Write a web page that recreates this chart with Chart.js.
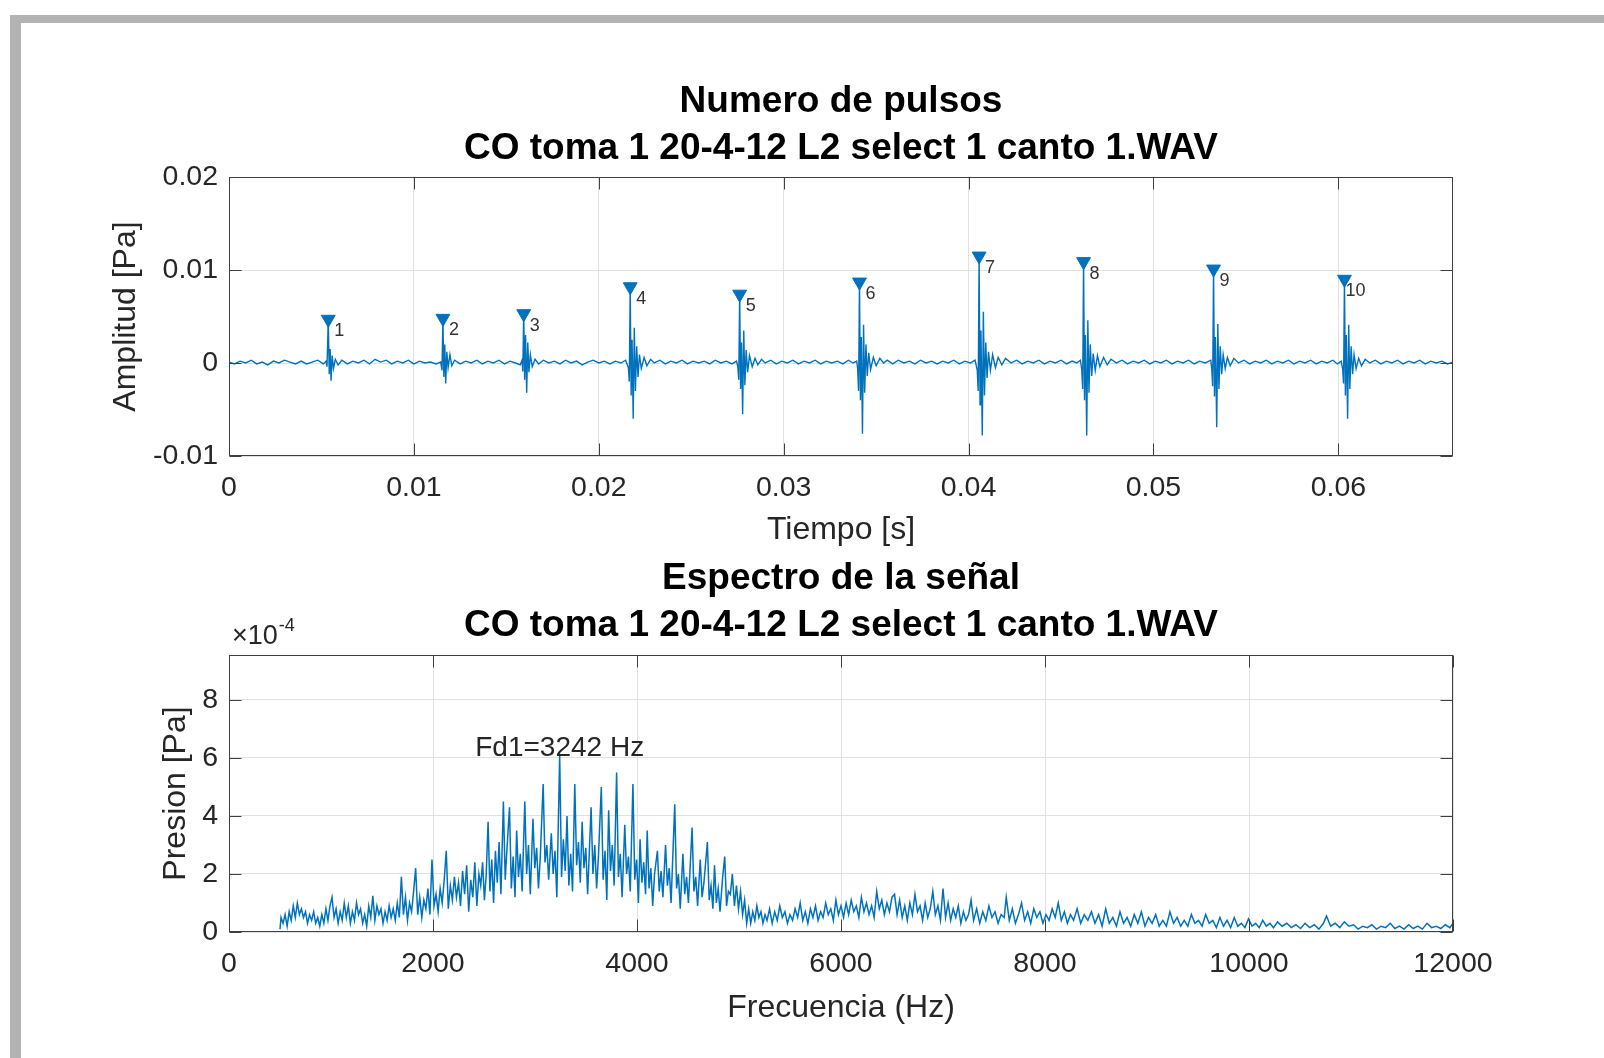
<!DOCTYPE html>
<html>
<head>
<meta charset="utf-8">
<script src="https://cdn.jsdelivr.net/npm/chart.js@4.4.1/dist/chart.umd.min.js"></script>
<style>
  body { margin: 0; background: #fff; width: 1604px; height: 1058px; overflow: hidden; position: relative; }
  .frame-top { position: absolute; left: 10px; top: 15px; width: 1594px; height: 8px; background: #b3b3b3; }
  .frame-left { position: absolute; left: 10px; top: 15px; width: 11px; height: 1043px; background: #b3b3b3; }
  canvas { position: absolute; left: 0; }
  #pulsos { top: 0; }
  #espectro { top: 540px; }
</style>
</head>
<body>
<div class="frame-top"></div>
<div class="frame-left"></div>
<canvas id="pulsos" width="1604" height="580"></canvas>
<canvas id="espectro" width="1604" height="518"></canvas>
<script>
// ---- datos: señal en el tiempo (ms, mPa) ----
const senalPts = [
  [0.0,0.1],[0.3,-0.1],[0.6,0.2],[0.9,0.0],[1.2,0.3],[1.5,-0.1],[1.8,0.1],[2.1,-0.2],[2.4,0.2],[2.7,0.0],
  [3.0,0.3],[3.3,0.1],[3.6,-0.1],[3.9,0.2],[4.2,-0.1],[4.5,0.1],[4.8,0.3],[5.1,-0.1],[5.25,0.2],
  [5.30,-0.4],[5.37,4.7],[5.42,-1.2],[5.47,1.5],[5.52,-1.9],[5.58,0.8],[5.65,-0.6],[5.75,0.4],[5.9,-0.2],
  [6.1,0.3],[6.4,-0.1],[6.7,0.2],[7.0,0.0],[7.3,0.3],[7.6,-0.1],[7.9,0.4],[8.2,0.1],[8.5,0.3],[8.8,-0.1],
  [9.1,0.2],[9.4,0.0],[9.7,0.3],[10.0,-0.1],[10.3,0.2],[10.6,0.0],[10.9,0.1],[11.2,-0.1],[11.45,0.1],
  [11.52,-0.8],[11.57,4.8],[11.62,-1.5],[11.67,2.0],[11.72,-2.2],[11.78,1.2],[11.85,-0.5],[11.95,0.9],[12.05,-0.3],
  [12.2,0.3],[12.5,-0.1],[12.8,0.2],[13.1,0.0],[13.4,0.3],[13.7,-0.1],[14.0,0.2],[14.3,0.0],[14.6,0.3],
  [14.9,-0.1],[15.2,0.2],[15.5,0.0],[15.75,-0.2],
  [15.85,0.3],[15.89,-0.9],[15.94,5.3],[15.99,-1.8],[16.04,3.0],[16.10,-3.2],[16.16,2.2],[16.22,-1.0],[16.30,0.9],
  [16.40,-0.4],[16.55,0.4],[16.75,-0.1],[17.0,0.3],[17.3,0.0],[17.6,0.2],[17.9,-0.1],[18.2,0.3],[18.5,0.0],
  [18.8,0.2],[19.1,-0.2],[19.4,0.1],[19.7,0.3],[20.0,0.0],[20.3,0.2],[20.6,-0.1],[20.9,0.2],[21.2,0.0],[21.45,0.3],
  [21.60,-0.5],[21.65,-2.0],[21.70,8.2],[21.75,-3.5],[21.80,2.5],[21.86,-6.0],[21.92,3.8],[21.98,-3.0],[22.05,1.8],
  [22.12,-1.5],[22.20,0.9],[22.30,-0.6],[22.45,0.6],[22.6,-0.3],[22.8,0.4],[23.0,0.0],[23.3,0.3],[23.6,-0.1],
  [23.9,0.2],[24.2,0.0],[24.5,0.3],[24.8,-0.1],[25.1,0.2],[25.4,0.0],[25.7,0.2],[26.0,-0.1],[26.3,0.3],
  [26.6,0.0],[26.9,0.2],[27.2,-0.1],[27.45,0.2],
  [27.52,-0.4],[27.57,-1.8],[27.62,7.4],[27.67,-2.8],[27.72,2.2],[27.78,-5.5],[27.84,3.5],[27.90,-2.4],[27.97,1.4],
  [28.05,-1.0],[28.15,0.8],[28.3,-0.4],[28.45,0.5],[28.6,-0.2],[28.8,0.4],[29.0,0.0],[29.3,0.3],[29.6,-0.1],
  [29.9,0.2],[30.2,0.0],[30.5,0.3],[30.8,-0.1],[31.1,0.2],[31.4,0.0],[31.7,0.3],[32.0,-0.1],[32.3,0.2],
  [32.6,0.0],[32.9,0.2],[33.2,-0.1],[33.5,0.3],[33.75,0.0],[33.95,0.2],
  [34.00,-0.6],[34.05,-3.0],[34.10,8.7],[34.15,-4.0],[34.20,2.8],[34.26,-7.6],[34.32,4.1],[34.38,-3.2],[34.45,2.0],
  [34.52,-1.4],[34.60,1.1],[34.70,-0.7],[34.85,0.6],[35.0,-0.3],[35.2,0.5],[35.4,0.0],[35.6,0.3],[35.9,-0.1],
  [36.2,0.3],[36.5,0.0],[36.8,0.2],[37.1,-0.1],[37.4,0.3],[37.7,0.0],[38.0,0.2],[38.3,-0.1],[38.6,0.2],
  [38.9,0.0],[39.2,0.3],[39.5,-0.1],[39.8,0.2],[40.1,0.0],[40.35,0.3],
  [40.47,-0.8],[40.52,-3.0],[40.57,11.5],[40.62,-4.5],[40.67,3.5],[40.74,-7.8],[40.80,5.5],[40.86,-3.5],[40.93,2.2],
  [41.00,-1.6],[41.08,1.2],[41.18,-0.8],[41.30,0.9],[41.45,-0.5],[41.6,0.6],[41.8,-0.2],[42.0,0.5],[42.3,0.0],
  [42.6,0.3],[42.9,-0.1],[43.2,0.2],[43.5,0.0],[43.8,0.3],[44.1,-0.1],[44.4,0.2],[44.7,0.0],[45.0,0.3],
  [45.3,-0.1],[45.6,0.2],[45.85,0.0],[46.05,0.3],
  [46.12,-0.7],[46.17,-2.8],[46.22,10.9],[46.27,-4.0],[46.32,3.0],[46.39,-7.8],[46.45,4.6],[46.51,-3.2],[46.58,2.0],
  [46.66,-1.4],[46.74,1.0],[46.85,-0.8],[46.97,0.8],[47.1,-0.4],[47.3,0.6],[47.5,-0.2],[47.7,0.4],[48.0,0.0],
  [48.3,0.3],[48.6,-0.1],[48.9,0.2],[49.2,0.0],[49.5,0.3],[49.8,-0.1],[50.1,0.2],[50.4,0.0],[50.7,0.3],
  [51.0,-0.1],[51.3,0.2],[51.6,0.0],[51.9,0.3],[52.2,-0.1],[52.5,0.2],[52.8,0.0],[53.1,0.3],
  [53.15,-0.6],[53.20,-2.5],[53.25,10.1],[53.30,-3.6],[53.35,2.8],[53.42,-6.9],[53.48,4.2],[53.54,-2.8],[53.61,1.8],
  [53.69,-1.2],[53.77,0.9],[53.88,-0.6],[54.0,0.6],[54.15,-0.3],[54.35,0.5],[54.6,0.0],[54.9,0.3],[55.2,-0.1],
  [55.5,0.2],[55.8,0.0],[56.1,0.3],[56.4,-0.1],[56.7,0.2],[57.0,0.0],[57.3,0.3],[57.6,-0.1],[57.9,0.2],
  [58.2,0.0],[58.5,0.3],[58.8,-0.1],[59.1,0.2],[59.4,0.0],[59.7,0.3],[59.95,-0.1],[60.15,0.2],
  [60.23,-0.6],[60.28,-2.2],[60.33,9.0],[60.38,-3.5],[60.43,3.0],[60.50,-6.0],[60.56,4.1],[60.62,-2.8],[60.69,1.8],
  [60.77,-1.2],[60.85,0.9],[60.96,-0.6],[61.1,0.5],[61.25,-0.3],[61.45,0.4],[61.7,0.0],[62.0,0.3],[62.3,-0.1],
  [62.6,0.2],[62.9,0.0],[63.2,0.3],[63.5,-0.1],[63.8,0.2],[64.1,0.0],[64.4,0.3],[64.7,-0.1],[65.0,0.2],
  [65.3,0.0],[65.6,0.2],[65.9,-0.1],[66.2,0.1]
];

// picos detectados (ms, mPa)
const pulsoTiempos = [5.37, 11.57, 15.94, 21.70, 27.62, 34.10, 40.57, 46.22, 53.25, 60.33];
const pulsoPicos   = [4.7, 4.8, 5.3, 8.2, 7.4, 8.7, 11.5, 10.9, 10.1, 9.0];
const pulsoEtiquetas = ['1','2','3','4','5','6','7','8','9','10'];

const tiempoTicks = [0, 0.01, 0.02, 0.03, 0.04, 0.05, 0.06];
const tiempoTickLabels = ['0','0.01','0.02','0.03','0.04','0.05','0.06'];
const amplitudTicks = [-0.01, 0, 0.01, 0.02];
const amplitudTickLabels = ['-0.01','0','0.01','0.02'];

// ---- datos: espectro (Hz, x10^-4 Pa) ----
const espectroPts = [
  [500,0.1],[510,0.5],[530,0.3],[550,0.6],[570,0.2],[590,0.7],[610,0.4],[630,0.9],[650,0.5],[670,1.0],
  [690,0.6],[710,0.8],[730,0.5],[750,0.7],[770,0.3],[790,0.6],[810,0.4],[830,0.7],[850,0.3],[870,0.5],
  [890,0.2],[910,0.6],[930,0.3],[950,0.8],[970,0.4],[990,0.9],[1010,1.2],[1030,0.5],[1050,0.8],[1070,0.3],
  [1090,0.7],[1110,0.4],[1130,1.0],[1150,0.5],[1170,0.9],[1190,0.3],[1210,0.7],[1230,0.4],[1250,1.0],[1270,0.6],
  [1290,0.8],[1310,0.3],[1330,0.6],[1350,0.2],[1370,0.9],[1390,0.5],[1410,1.25],[1430,0.4],[1450,0.9],[1470,0.6],
  [1490,0.8],[1510,0.3],[1530,0.7],[1550,0.4],[1570,0.9],[1590,0.5],[1610,0.8],[1630,0.4],[1650,1.0],
  [1670,0.5],[1690,1.9],[1710,0.6],[1730,1.2],[1750,0.4],[1770,1.0],[1790,0.7],[1810,1.4],[1830,2.2],[1850,0.6],
  [1870,1.2],[1890,0.5],[1910,1.1],[1930,0.8],[1950,1.5],[1970,0.6],[1990,2.5],[2010,0.9],[2030,1.3],[2050,0.7],
  [2070,1.5],[2090,1.0],[2110,1.8],[2130,2.8],[2150,0.8],[2170,1.6],[2190,1.1],[2210,1.9],[2230,1.2],[2250,1.7],
  [2270,0.9],[2290,2.1],[2310,1.3],[2330,2.3],[2350,0.7],[2370,1.8],[2390,1.2],[2410,2.4],[2430,0.9],[2450,2.0],
  [2468,1.6],[2486,2.4],[2504,1.1],[2522,2.0],[2540,3.8],[2558,1.4],[2576,2.5],[2594,1.0],[2612,2.8],[2630,1.7],
  [2648,3.1],[2666,1.3],[2690,4.5],[2708,1.8],[2726,2.9],[2750,4.3],[2768,1.5],[2786,2.6],[2804,1.2],[2820,3.5],
  [2838,1.9],[2856,2.7],[2874,1.4],[2900,4.5],[2918,2.0],[2936,3.0],[2954,1.3],[2980,3.9],[2998,2.2],[3016,2.9],
  [3034,1.5],[3052,2.6],[3080,5.1],[3098,2.4],[3116,3.0],[3134,1.8],[3160,3.4],[3178,2.0],[3196,2.8],[3214,1.2],
  [3242,6.1],[3260,1.9],[3278,3.2],[3296,2.1],[3314,4.0],[3332,1.6],[3350,2.7],[3368,1.4],[3390,5.1],[3408,2.3],
  [3426,3.1],[3444,1.7],[3462,3.8],[3480,2.2],[3498,2.9],[3516,1.3],[3550,4.3],[3568,2.0],[3586,3.0],[3604,1.5],
  [3622,2.6],[3650,5.0],[3668,1.8],[3686,2.8],[3704,1.1],[3722,4.2],[3740,2.1],[3758,3.0],[3776,1.6],[3800,5.5],
  [3818,1.9],[3836,2.7],[3854,1.2],[3880,3.7],[3898,2.0],[3916,2.6],[3934,1.4],[3960,5.1],[3978,1.8],[3996,2.5],
  [4014,1.0],[4030,3.2],[4048,1.7],[4066,2.4],[4084,1.3],[4100,3.5],[4118,1.5],[4136,2.2],[4154,0.9],[4172,2.0],
  [4200,2.8],[4218,1.4],[4236,2.1],[4254,1.2],[4280,3.0],[4298,1.6],[4316,2.2],[4334,1.0],[4370,4.4],[4388,1.5],
  [4406,2.0],[4424,0.8],[4450,2.7],[4468,1.3],[4486,1.9],[4504,1.0],[4540,3.6],[4558,1.4],[4576,1.9],[4594,0.9],
  [4620,2.5],[4638,1.2],[4656,1.7],[4690,3.1],[4708,1.1],[4726,1.6],[4744,0.8],[4760,2.3],[4778,1.0],[4796,1.5],
  [4814,0.7],[4840,1.9],[4860,2.6],[4878,0.9],[4896,1.4],
  [4915,1.3],[4935,2.0],[4955,0.9],[4975,1.6],[4995,0.8],[5015,1.4],[5035,0.6],[5055,1.1],[5075,0.3],[5095,0.8],
  [5115,0.3],[5135,0.7],[5155,0.4],[5175,0.9],[5195,0.5],[5215,0.7],[5235,0.3],[5255,0.6],[5275,0.4],
  [5300,0.8],[5325,0.3],[5350,0.7],[5375,0.4],[5400,0.9],[5425,0.5],[5450,0.7],[5475,0.3],[5500,0.6],[5525,0.4],
  [5550,0.8],[5575,0.5],[5600,1.0],[5625,0.4],[5650,0.7],[5675,0.3],[5700,0.8],[5725,0.5],[5750,0.9],[5775,0.4],
  [5800,0.7],[5825,0.5],[5850,1.0],[5875,0.6],[5900,0.8],[5925,0.4],[5950,1.1],[5975,0.6],
  [6000,0.9],[6025,0.5],[6050,1.0],[6075,0.6],[6100,1.1],[6125,0.7],[6150,0.9],[6175,0.5],[6200,1.2],[6225,0.7],
  [6250,1.0],[6275,0.6],[6300,0.9],[6325,0.5],[6350,1.4],[6375,0.8],[6400,1.1],[6425,0.6],[6450,1.0],[6475,0.7],
  [6500,1.2],[6525,1.3],[6550,0.6],[6575,1.1],[6600,0.5],[6625,0.9],[6650,0.4],[6675,1.0],[6700,0.6],[6725,1.3],
  [6750,0.7],[6775,0.9],[6800,0.4],[6825,1.0],[6850,0.5],[6875,0.8],[6900,1.4],[6925,0.6],[6950,0.9],[6975,0.4],
  [7000,1.5],[7025,0.5],[7050,1.0],[7075,0.4],[7100,0.8],[7125,0.5],[7150,0.9],[7175,0.3],[7200,0.7],[7225,0.4],
  [7250,0.6],[7275,1.1],
  [7300,0.4],[7330,0.8],[7360,0.3],[7390,0.7],[7420,0.4],[7450,0.9],[7480,0.5],[7510,0.7],[7540,0.3],[7570,0.6],
  [7600,0.5],[7620,1.2],[7650,0.4],[7680,0.8],[7710,0.3],[7740,0.6],[7770,1.0],[7800,0.4],[7830,0.7],[7860,0.3],
  [7890,0.8],[7920,0.5],[7950,0.7],[7980,0.3],[8010,0.6],[8040,0.4],[8070,0.8],[8100,0.5],[8130,1.0],[8160,0.4],
  [8190,0.7],[8220,0.3],[8250,0.6],[8280,0.4],
  [8315,0.8],[8350,0.3],[8385,0.6],[8420,0.4],[8455,0.7],[8490,0.3],[8525,0.6],[8560,0.2],[8595,0.8],[8630,0.3],
  [8665,0.5],[8700,0.2],[8735,0.7],[8770,0.3],[8805,0.5],[8840,0.2],[8875,0.6],[8910,0.3],[8945,0.7],[8980,0.2],
  [9015,0.5],[9050,0.3],[9085,0.6],[9120,0.2],[9155,0.4],[9190,0.2],[9225,0.7],[9260,0.3],[9295,0.5],[9330,0.2],
  [9365,0.4],[9400,0.2],[9435,0.6],[9470,0.3],[9505,0.4],[9540,0.2],[9575,0.6],[9610,0.3],[9645,0.4],[9680,0.15],
  [9715,0.5],[9750,0.2],[9785,0.4],[9820,0.15],[9855,0.5],[9890,0.2],[9925,0.3],[9960,0.15],[9995,0.45],[10030,0.2],
  [10065,0.3],[10100,0.15],[10135,0.4],[10170,0.2],[10205,0.3],[10240,0.15],
  [10280,0.35],[10325,0.2],[10370,0.3],[10415,0.15],[10460,0.25],[10505,0.12],[10550,0.3],[10595,0.15],[10640,0.25],[10685,0.1],
  [10730,0.3],[10760,0.55],[10800,0.2],[10845,0.3],[10890,0.15],[10935,0.35],[10980,0.2],[11025,0.25],[11070,0.1],[11115,0.2],
  [11160,0.15],[11205,0.25],[11250,0.1],[11295,0.2],[11340,0.15],[11385,0.3],[11430,0.12],[11475,0.2],[11520,0.1],[11565,0.25],
  [11610,0.12],[11655,0.2],[11700,0.1],[11745,0.3],[11790,0.15],[11835,0.2],[11880,0.12],[11925,0.25],[11970,0.15],[12000,0.3]
];

const picoFrecuencia = 3242;
const picoTexto = 'Fd1=3242 Hz';
const picoTextoNivel = 6.35;

const frecuenciaTicks = [0, 2000, 4000, 6000, 8000, 10000, 12000];
const frecuenciaTickLabels = ['0','2000','4000','6000','8000','10000','12000'];
const presionTicks = [0, 2, 4, 6, 8];
const presionTickLabels = ['0','2','4','6','8'];

const FONT = '"Liberation Sans", Arial, Helvetica, sans-serif';
const AZUL = '#0072bd';
const TXT = '#262626';

// box + inward tick marks, MATLAB style
const cajaMatlab = {
  id: 'cajaMatlab',
  afterDatasetsDraw(chart) {
    const { ctx, chartArea: a, scales } = chart;
    const L = Math.round(a.left) + 0.5, R = Math.round(a.right) - 0.5;
    const T = Math.round(a.top) + 0.5, B = Math.round(a.bottom) - 0.5;
    ctx.save();
    ctx.strokeStyle = '#404040';
    ctx.lineWidth = 1;
    ctx.strokeRect(L, T, R - L, B - T);
    const len = 12;
    ctx.beginPath();
    scales.x.ticks.forEach(t => {
      const px = Math.round(scales.x.getPixelForValue(t.value)) + 0.5;
      ctx.moveTo(px, B); ctx.lineTo(px, B - len);
      ctx.moveTo(px, T); ctx.lineTo(px, T + len);
    });
    scales.y.ticks.forEach(t => {
      const py = Math.round(scales.y.getPixelForValue(t.value)) + 0.5;
      ctx.moveTo(L, py); ctx.lineTo(L + len, py);
      ctx.moveTo(R, py); ctx.lineTo(R - len, py);
    });
    ctx.stroke();
    ctx.restore();
  }
};

function ejeX(min, max, ticks, labels, titulo, alto) {
  return {
    type: 'linear', min, max,
    afterBuildTicks: s => { s.ticks = ticks.map(v => ({ value: v })); },
    afterFit: s => { s.height = alto; },
    ticks: { callback: (v, i) => labels[i], color: TXT, font: { family: FONT, size: 28.5 }, padding: 15, maxRotation: 0, autoSkip: false },
    grid: { color: '#e1e1e1', drawTicks: false },
    border: { display: false },
    title: { display: true, text: titulo, color: TXT, font: { family: FONT, size: 32 }, padding: { top: 0, bottom: 31 } }
  };
}

function ejeY(min, max, ticks, labels, titulo, pad) {
  return {
    type: 'linear', min, max,
    afterBuildTicks: s => { s.ticks = ticks.map(v => ({ value: v })); },
    afterFit: s => { s.width = 229; },
    ticks: { callback: (v, i) => labels[i], color: TXT, font: { family: FONT, size: 28.5 }, padding: 11, autoSkip: false },
    grid: { color: '#e1e1e1', drawTicks: false },
    border: { display: false },
    title: { display: true, text: titulo, color: TXT, font: { family: FONT, size: 32 }, padding: { top: pad, bottom: 0 } }
  };
}

// ---- grafico 1: numero de pulsos ----
const etiquetasPicos = {
  id: 'etiquetasPicos',
  afterDatasetsDraw(chart) {
    const { ctx, scales } = chart;
    ctx.save();
    ctx.fillStyle = '#333';
    ctx.font = '18px ' + FONT;
    ctx.textAlign = 'center';
    ctx.textBaseline = 'middle';
    pulsoTiempos.forEach((t, i) => {
      const px = scales.x.getPixelForValue(t / 1000);
      const py = scales.y.getPixelForValue(pulsoPicos[i] / 1000);
      ctx.fillText(pulsoEtiquetas[i], px + 11, py + 12);
    });
    ctx.restore();
  }
};

new Chart(document.getElementById('pulsos'), {
  data: {
    datasets: [
      {
        type: 'scatter',
        data: pulsoTiempos.map((t, i) => ({ x: t / 1000, y: pulsoPicos[i] / 1000 })),
        pointStyle: 'triangle', rotation: 180, pointRadius: 8,
        backgroundColor: AZUL, borderColor: AZUL, borderWidth: 1,
        order: 0
      },
      {
        type: 'line',
        data: senalPts.map(p => ({ x: p[0] / 1000, y: p[1] / 1000 })),
        borderColor: AZUL, borderWidth: 1.4, pointRadius: 0, tension: 0,
        order: 1
      }
    ]
  },
  options: {
    responsive: false, animation: false, devicePixelRatio: 1,
    layout: { padding: { left: 0, right: 151, top: 0, bottom: 0 } },
    plugins: {
      legend: { display: false }, tooltip: { enabled: false },
      title: {
        display: true, fullSize: false,
        text: ['Numero de pulsos', 'CO toma 1 20-4-12 L2 select 1 canto 1.WAV'],
        color: '#000', font: { family: FONT, size: 37, weight: 'bold', lineHeight: 47 / 37 },
        padding: { top: 78.5, bottom: 4.5 }
      }
    },
    scales: {
      x: ejeX(0, 0.0662, tiempoTicks, tiempoTickLabels, 'Tiempo [s]', 124),
      y: ejeY(-0.01, 0.02, amplitudTicks, amplitudTickLabels, 'Amplitud [Pa]', 106.8)
    }
  },
  plugins: [cajaMatlab, etiquetasPicos]
});

// ---- grafico 2: espectro ----
const textosEspectro = {
  id: 'textosEspectro',
  afterDatasetsDraw(chart) {
    const { ctx, scales, chartArea } = chart;
    ctx.save();
    ctx.fillStyle = TXT;
    ctx.textBaseline = 'middle';
    ctx.textAlign = 'center';
    ctx.font = '28px ' + FONT;
    ctx.fillText(picoTexto, scales.x.getPixelForValue(picoFrecuencia), scales.y.getPixelForValue(picoTextoNivel));
    // exponente del eje y
    ctx.textAlign = 'left';
    ctx.font = '27px ' + FONT;
    const x0 = chartArea.left + 3, y0 = chartArea.top - 18;
    ctx.fillText('\u00d710', x0, y0);
    const w = ctx.measureText('\u00d710').width;
    ctx.font = '18px ' + FONT;
    ctx.fillText('-4', x0 + w + 1, y0 - 11);
    ctx.restore();
  }
};

new Chart(document.getElementById('espectro'), {
  data: {
    datasets: [{
      type: 'line',
      data: espectroPts.map(p => ({ x: p[0], y: p[1] })),
      borderColor: AZUL, borderWidth: 1.5, pointRadius: 0, tension: 0
    }]
  },
  options: {
    responsive: false, animation: false, devicePixelRatio: 1,
    layout: { padding: { left: 0, right: 151, top: 0, bottom: 0 } },
    plugins: {
      legend: { display: false }, tooltip: { enabled: false },
      title: {
        display: true, fullSize: false,
        text: ['Espectro de la se\u00f1al', 'CO toma 1 20-4-12 L2 select 1 canto 1.WAV'],
        color: '#000', font: { family: FONT, size: 37, weight: 'bold', lineHeight: 47 / 37 },
        padding: { top: 15.5, bottom: 5.5 }
      }
    },
    scales: {
      x: ejeX(0, 12000, frecuenciaTicks, frecuenciaTickLabels, 'Frecuencia (Hz)', 126),
      y: ejeY(0, 9.55, presionTicks, presionTickLabels, 'Presion [Pa]', 156.8)
    }
  },
  plugins: [cajaMatlab, textosEspectro]
});
</script>
</body>
</html>
